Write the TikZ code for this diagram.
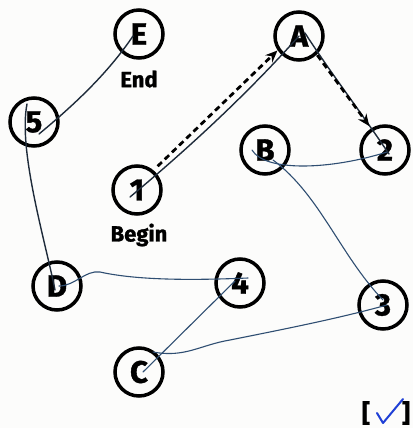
\documentclass[tikz,border=0pt]{standalone}
\usepackage{fontspec}
\setmainfont{Fira Sans}[BoldFeatures={FakeBold=1.2}]
\usetikzlibrary{arrows.meta}
\definecolor{inkdark}{HTML}{1E2B3A}
\definecolor{penblue}{HTML}{2F4E72}
\definecolor{tickblue}{HTML}{1F3FD6}
\definecolor{paper}{HTML}{FCFCFB}
\begin{document}
\begin{tikzpicture}[x=1pt,y=-1pt,
  station/.style={circle,draw=black,line width=3.5pt,minimum size=48pt,inner sep=0pt,
    font=\bfseries\fontsize{31}{31}\selectfont},
  lbl/.style={inner sep=0pt,font=\bfseries\fontsize{22}{22}\selectfont},
  ink/.style={draw=inkdark,line width=1.4pt,line cap=round},
  pen/.style={draw=penblue,line width=1.1pt,line cap=round},
  route/.style={draw=black,line width=2.7pt,dash pattern=on 6pt off 4pt,
    -{Stealth[length=12pt,width=10pt]}},
  brk/.style={inner sep=0pt,font=\bfseries\fontsize{25}{25}\selectfont}
]
\fill[paper] (0,0) rectangle (413,428);
\useasboundingbox (0,0) rectangle (413,428);

% stations
\node[station] (E) at (139,34) {E};
\node[station] (S5) at (34,122) {5};
\node[station] (S1) at (137,190) {1};
\node[station] (A) at (299,36) {A};
\node[station] (B) at (265,150) {B};
\node[station] (S2) at (385,150) {2};
\node[station] (D) at (57,286) {D};
\node[station] (S4) at (240,283) {4};
\node[station] (S3) at (383,305) {3};
\node[station] (C) at (139,372) {C};

% labels
\node[lbl] (endlbl) at (139,79) {End};
\node[lbl] (beginlbl) at (139,235) {Begin};

% hand drawn connectors
\draw[ink] ([shift={(-6,2)}]E.center) .. controls (110,70) and (80,100) .. ([shift={(5,12)}]S5.center);
\draw[ink] ([shift={(-7,-18)}]S5.center) .. controls (18,150) and (45,240) .. ([shift={(-2,4)}]D.center);
\draw[pen] ([shift={(2,0)}]D.center) .. controls (75,286) and (85,270) .. (100,272)
  .. controls (140,281) and (200,280) .. ([shift={(8,-5)}]S4.center);
\draw[pen] ([shift={(-5,-2)}]S4.center) -- ([shift={(4,0)}]C.center);
\draw[pen] ([shift={(14,-20)}]C.center) .. controls (185,358) and (200,345) .. (230,340)
  .. controls (290,328) and (340,318) .. ([shift={(4,0)}]S3.center);
\draw[pen] ([shift={(8,10)}]B.center) .. controls (320,195) and (340,255) .. ([shift={(0,-5)}]S3.center);
\draw[pen] ([shift={(-13,0)}]B.center) .. controls (265,172) and (330,170) .. ([shift={(2,2)}]S2.center);
\draw[ink] ([shift={(-7,7)}]S1.center) .. controls (190,147) and (247,94) .. (A.center);
\draw[ink] ([shift={(6,-3)}]A.center) .. controls (330,72) and (358,108) .. ([shift={(4,4)}]S2.center);

% dashed route
\draw[route] ([shift={(4,-4)}]S1.50) -- ([shift={(-1,-1)}]A.217);
\draw[route] ([shift={(1,0)}]A.-48) -- ([shift={(-2,-2)}]S2.122);

% check box
\node[brk] (lb) at (366,413) {[};
\node[brk] (rb) at (406,413) {]};
\coordinate (t1) at (377,413);
\coordinate (t2) at (383,423);
\coordinate (t3) at (403,399);
\draw[tickblue,line width=2pt,line cap=round,line join=round] (t1) -- (t2) -- (t3);
\end{tikzpicture}
\end{document}
